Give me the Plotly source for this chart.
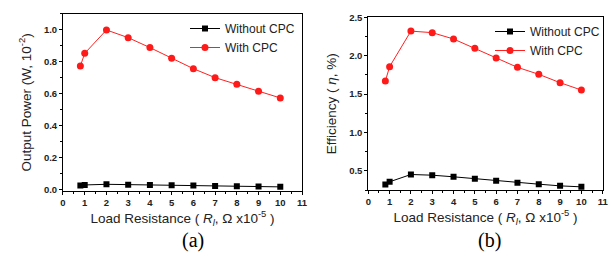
import plotly.graph_objects as go

# Data
load_resistance = [0.8, 1, 2, 3, 4, 5, 6, 7, 8, 9, 10]
power_without_cpc = [0.027, 0.031, 0.035, 0.033, 0.031, 0.029, 0.027, 0.025, 0.023, 0.022, 0.019]
power_with_cpc = [0.775, 0.854, 1.0, 0.952, 0.890, 0.823, 0.758, 0.702, 0.660, 0.617, 0.575]
eff_without_cpc = [0.322, 0.357, 0.452, 0.443, 0.422, 0.396, 0.370, 0.343, 0.326, 0.304, 0.291]
eff_with_cpc = [1.67, 1.857, 2.32, 2.30, 2.217, 2.096, 1.97, 1.848, 1.757, 1.648, 1.552]
series_names = ["Without CPC", "With CPC"]
x_ticks = list(range(0, 12))

FONT = "Liberation Sans"
TXT = "#222222"

fig = go.Figure()

def add_pair(xa, ya, ywo, yw, legend):
    fig.add_trace(go.Scatter(x=load_resistance, y=ywo, name=series_names[0], mode="lines+markers",
                             line=dict(color="black", width=1), marker=dict(symbol="square", size=6, color="black"),
                             xaxis=xa, yaxis=ya, legend=legend))
    fig.add_trace(go.Scatter(x=load_resistance, y=yw, name=series_names[1], mode="lines+markers",
                             line=dict(color="#ff2020", width=1), marker=dict(symbol="circle", size=7, color="#ff1a1a"),
                             xaxis=xa, yaxis=ya, legend=legend))

add_pair("x", "y", power_without_cpc, power_with_cpc, "legend")
add_pair("x2", "y2", eff_without_cpc, eff_with_cpc, "legend2")

tickfont = dict(family=FONT, size=9.5, color=TXT, weight="bold")
title_font = dict(family=FONT, size=13.5, color=TXT)
common = dict(showline=True, linecolor="black", linewidth=1, mirror=True, ticks="outside", ticklen=3,
              tickwidth=1, tickcolor="black", showgrid=False, zeroline=False, tickfont=tickfont,
              automargin=False)
xtitle = "Load Resistance ( <i>R</i><sub><i>l</i></sub>, Ω x10<sup>-5</sup> )"

fig.update_layout(
    width=611, height=262, margin=dict(l=0, r=0, t=0, b=0, autoexpand=False),
    paper_bgcolor="white", plot_bgcolor="white",
    xaxis=dict(domain=[0.1031, 0.4943], range=[0, 11], tickvals=x_ticks, anchor="y",
               title=dict(text=xtitle, font=title_font, standoff=5),
               minor=dict(dtick=0.5, ticklen=2, ticks="outside", tickcolor="black"), **common),
    yaxis=dict(domain=[0.2721, 0.9466], range=[-0.005, 1.1], dtick=0.2, tickformat=".1f", anchor="x",
               title=dict(text="Output Power (W, 10<sup>-2</sup>)", font=title_font, standoff=9),
               minor=dict(dtick=0.1, ticklen=2, ticks="outside", tickcolor="black"), **common),
    xaxis2=dict(domain=[0.6028, 0.9864], range=[0, 11], tickvals=x_ticks, anchor="y2",
                title=dict(text=xtitle, font=title_font, standoff=5),
                minor=dict(dtick=0.5, ticklen=2, ticks="outside", tickcolor="black"), **common),
    yaxis2=dict(domain=[0.2748, 0.934], range=[0.25, 2.5], tickvals=[0.5, 1.0, 1.5, 2.0, 2.5], tickformat=".1f", anchor="x2",
                title=dict(text="Efficiency ( <i>η</i>, %)", font=title_font, standoff=9),
                minor=dict(tick0=0, dtick=0.25, ticklen=2, ticks="outside", tickcolor="black"), **common),
    legend=dict(x=185 / 611, y=1 - 14 / 262, xanchor="left", yanchor="top", itemwidth=30,
                font=dict(family=FONT, size=12, color=TXT), bgcolor="rgba(0,0,0,0)", tracegroupgap=0),
    legend2=dict(x=490 / 611, y=1 - 17 / 262, xanchor="left", yanchor="top", itemwidth=30,
                 font=dict(family=FONT, size=12, color=TXT), bgcolor="rgba(0,0,0,0)", tracegroupgap=0),
    showlegend=True,
)

annotations = [
    dict(text="(a)", x=193 / 611, y=1 - 240 / 262, xref="paper", yref="paper", showarrow=False,
         xanchor="center", yanchor="middle", font=dict(family="Liberation Serif", size=20, color="black")),
    dict(text="(b)", x=489 / 611, y=1 - 240 / 262, xref="paper", yref="paper", showarrow=False,
         xanchor="center", yanchor="middle", font=dict(family="Liberation Serif", size=20, color="black")),
]
fig.update_layout(annotations=annotations)

fig.write_html("out.html", config={"displayModeBar": False},
               post_script="document.body.style.margin='0px';document.body.style.padding='0px';")
